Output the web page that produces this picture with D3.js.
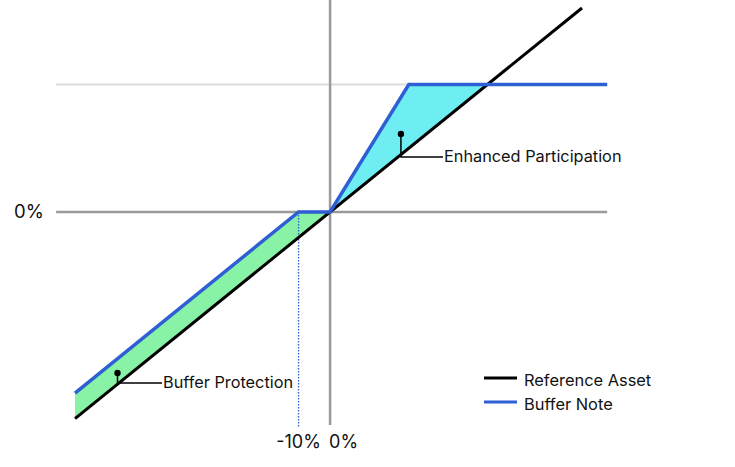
<!DOCTYPE html>
<html>
<head>
<meta charset="utf-8">
<script src="https://cdn.jsdelivr.net/npm/d3@7"></script>
<style>
  body { margin: 0; background: #fff; }
  text { font-family: Inter, "Noto Sans", sans-serif; fill: #111; }
</style>
</head>
<body>
<svg id="chart" width="735" height="467"></svg>
<script>
// payoff data, % return of reference asset -> % return
const assetX = [-81, 80];
const bufferLevel = -10;
const capLevel = 50;
const capX = 25;          // where the note hits its cap
const axisExtent = [-87, 88];
const xTickLabels = ["-10%", "0%"];
const yTickLabels = ["0%"];
const seriesNames = ["Reference Asset", "Buffer Note"];
const noteNames = ["Buffer Protection", "Enhanced Participation"];

const noteValue = (x) => {
    if (x < bufferLevel) return x - bufferLevel;
    if (x < 0) return 0;
    if (x < capX) return x * capLevel / capX;
    return capLevel;
};

const svg = d3.select("#chart");
const x = d3.scaleLinear().domain([-81, 80]).range([75, 582]);
const y = d3.scaleLinear().domain([-80, 80]).range([416, 8]);

const blue = "#2f5fd4";
const gray = "#9a9a9a";

// filled areas between the two lines
const lowerPts = [assetX[0], bufferLevel, 0];
const upperPts = [0, capX, capLevel];
const area = d3.area()
    .x(d => x(d))
    .y0(d => y(d))
    .y1(d => y(noteValue(d)));

svg.append("path")
    .datum(lowerPts)
    .attr("d", area)
    .attr("fill", "#88f2a6");
svg.append("path")
    .datum(upperPts)
    .attr("d", area)
    .attr("fill", "#6eeef3");

// cap gridline
svg.append("line")
    .attr("x1", x(axisExtent[0])).attr("x2", x(axisExtent[1]))
    .attr("y1", y(capLevel)).attr("y2", y(capLevel))
    .attr("stroke", "#dcdcdc").attr("stroke-width", 2);

// axes
svg.append("line")
    .attr("x1", x(axisExtent[0])).attr("x2", x(axisExtent[1]))
    .attr("y1", y(0)).attr("y2", y(0))
    .attr("stroke", gray).attr("stroke-width", 2.5);
svg.append("line")
    .attr("x1", x(0)).attr("x2", x(0))
    .attr("y1", 0).attr("y2", 425)
    .attr("stroke", gray).attr("stroke-width", 2.5);

// buffer dotted line
svg.append("line")
    .attr("x1", x(bufferLevel)).attr("x2", x(bufferLevel))
    .attr("y1", y(0)).attr("y2", 428)
    .attr("stroke", blue).attr("stroke-width", 1.3)
    .attr("stroke-dasharray", "1.5,1.5");

const line = d3.line().x(d => x(d[0])).y(d => y(d[1]));

// reference asset
svg.append("path")
    .datum(assetX.map(d => [d, d]))
    .attr("d", line)
    .attr("fill", "none")
    .attr("stroke", "#000")
    .attr("stroke-width", 3);

// buffer note
const notePts = [assetX[0], bufferLevel, 0, capX, axisExtent[1]].map(d => [d, noteValue(d)]);
svg.append("path")
    .datum(notePts)
    .attr("d", line)
    .attr("fill", "none")
    .attr("stroke", blue)
    .attr("stroke-width", 3.5)
    .attr("stroke-linejoin", "miter");

// tick labels
svg.append("text")
    .attr("x", 14).attr("y", y(0))
    .attr("dy", "0.35em")
    .attr("font-size", 18.5)
    .text(yTickLabels[0]);
svg.append("text")
    .attr("x", x(bufferLevel)).attr("y", 442)
    .attr("dy", "0.35em")
    .attr("text-anchor", "middle")
    .attr("font-size", 18)
    .text(xTickLabels[0]);
svg.append("text")
    .attr("x", x(0) - 1).attr("y", 442)
    .attr("dy", "0.35em")
    .attr("font-size", 18)
    .text(xTickLabels[1]);

// callouts
const callout = (px, dotY, lineY, textX, label) => {
    svg.append("path")
        .attr("d", `M${px},${dotY}V${lineY}H${textX}`)
        .attr("fill", "none")
        .attr("stroke", "#000")
        .attr("stroke-width", 1.5);
    svg.append("circle")
        .attr("cx", px).attr("cy", dotY).attr("r", 3.2)
        .attr("fill", "#000");
    svg.append("text")
        .attr("x", textX + 1).attr("y", lineY - 1)
        .attr("dy", "0.35em")
        .attr("font-size", 16.3)
        .text(label);
};
callout(x(-67.5), 373, 383, 162, noteNames[0]);
callout(x(22.5), 134, 157, 443, noteNames[1]);

// legend
const legend = svg.append("g").attr("transform", "translate(484,380)");
seriesNames.forEach((name, i) => {
    const g = legend.append("g").attr("transform", `translate(0,${i * 24})`);
    g.append("line")
        .attr("x1", 0).attr("x2", 33)
        .attr("y1", -2).attr("y2", -2)
        .attr("stroke", i === 0 ? "#000" : blue)
        .attr("stroke-width", 3);
    g.append("text")
        .attr("x", 40).attr("y", 0)
        .attr("dy", "0.35em")
        .attr("font-size", 16.4)
        .text(name);
});
</script>
</body>
</html>
